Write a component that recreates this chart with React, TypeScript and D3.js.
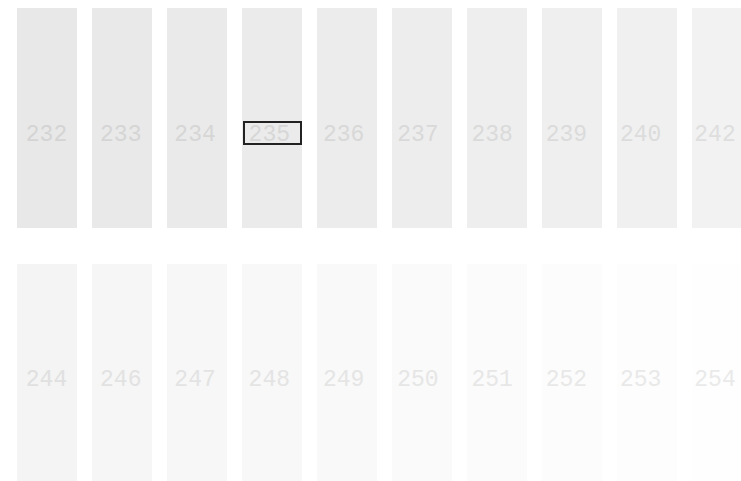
import React, { useEffect, useRef } from 'react';
import * as d3 from 'd3';

// grey levels shown in each row of swatches
const rowOneValues = [232, 233, 234, 235, 236, 237, 238, 239, 240, 242];
const rowTwoValues = [244, 246, 247, 248, 249, 250, 251, 252, 253, 254];
const selectedValue = 235;

const App = () => {
  const ref = useRef(null);

  useEffect(() => {
    const width = 741;
    const height = 481;

    d3.select(ref.current).selectAll('*').remove();

    const svg = d3
      .select(ref.current)
      .append('svg')
      .attr('width', width)
      .attr('height', height)
      .style('position', 'absolute')
      .style('left', '0px')
      .style('top', '0px')
      .style('background', '#fff');

    const rows = [rowOneValues, rowTwoValues];

    const x = d3
      .scaleBand()
      .domain(d3.range(10).map(String))
      .range([17, 752])
      .paddingInner(0.2)
      .paddingOuter(0);

    // labels sit on a slightly tighter pitch than the swatches
    const labelX = d3.scaleLinear().domain([0, 9]).range([46.5, 715]);

    const y = d3
      .scaleBand()
      .domain(['0', '1'])
      .range([8, 484])
      .paddingInner(0.140625)
      .paddingOuter(0);

    // label centre offset from top of each row
    const labelOffsets = [125, 114];

    rows.forEach((values, r) => {
      const g = svg.append('g').attr('transform', `translate(0, ${y(String(r))})`);

      g.selectAll('rect.swatch')
        .data(values)
        .enter()
        .append('rect')
        .attr('class', 'swatch')
        .attr('x', (d, i) => x(String(i)))
        .attr('width', x.bandwidth())
        .attr('height', y.bandwidth())
        .attr('fill', d => d3.rgb(d, d, d).toString());

      g.selectAll('rect.pick')
        .data(values.filter(d => d === selectedValue))
        .enter()
        .append('rect')
        .attr('class', 'pick')
        .attr('x', d => x(String(values.indexOf(d))) + 2)
        .attr('y', labelOffsets[r] - 11)
        .attr('width', x.bandwidth() - 3)
        .attr('height', 22)
        .attr('fill', 'none')
        .attr('stroke', '#222')
        .attr('stroke-width', 2);

      g.selectAll('text')
        .data(values)
        .enter()
        .append('text')
        .attr('x', (d, i) => labelX(i))
        .attr('y', labelOffsets[r])
        .attr('dy', '0.35em')
        .attr('text-anchor', 'middle')
        .style('font-family', "'Liberation Mono', 'DejaVu Sans Mono', monospace")
        .style('font-size', '23px')
        .style('fill', d => d3.rgb(d - 20, d - 20, d - 20).toString())
        .text(d => d);
    });
  }, []);

  return <div ref={ref}></div>;
};

export default App;
